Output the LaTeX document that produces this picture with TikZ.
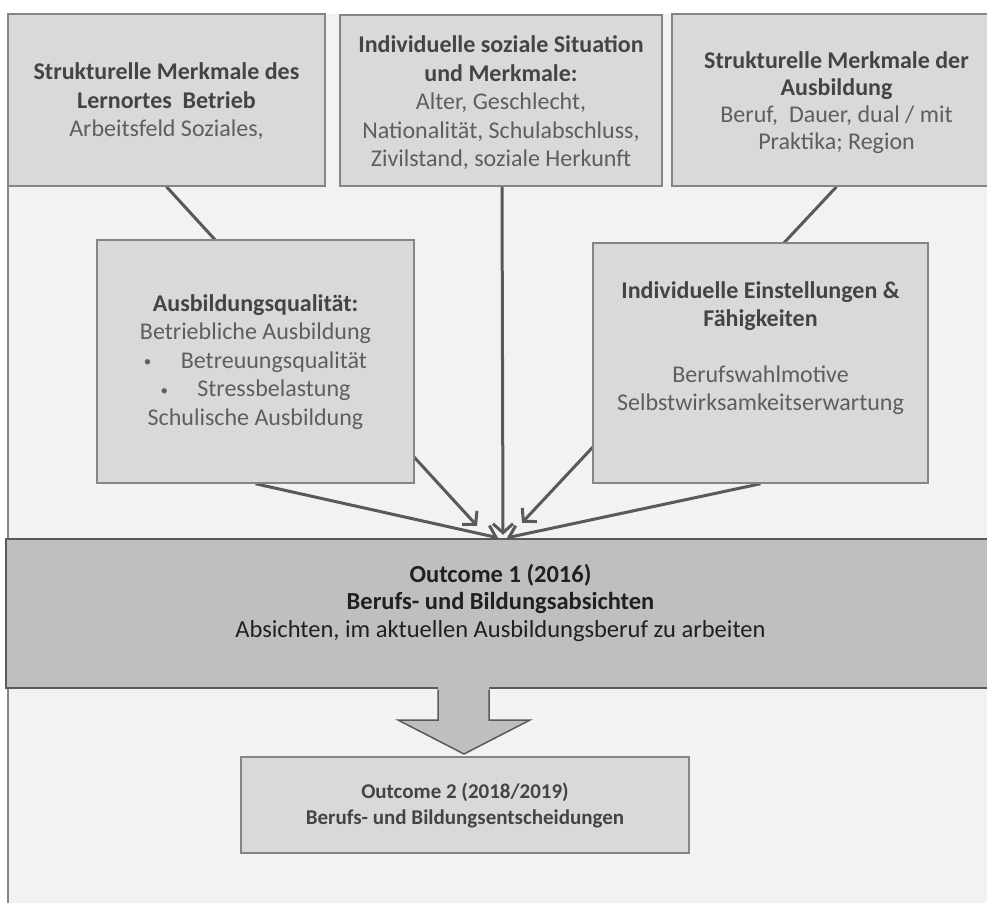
\documentclass[tikz,border=0pt]{standalone}
\usepackage{fontspec}
\setmainfont{Carlito}
\usetikzlibrary{arrows.meta,calc}
\definecolor{panelbg}{HTML}{F2F2F2}
\definecolor{boxfill}{HTML}{D9D9D9}
\definecolor{boxline}{HTML}{858585}
\definecolor{darkfill}{HTML}{BFBFBF}
\definecolor{lineclr}{HTML}{595959}
\definecolor{headclr}{HTML}{444444}
\definecolor{bodyclr}{HTML}{5E5E5E}
\definecolor{outclr}{HTML}{202020}
\newcommand\Hdg[1]{{\bfseries\color{headclr}#1}}
\newcommand\Bul{{\fontsize{15}{15}\selectfont\raisebox{1.5pt}{•}}}
\pgfdeclarelayer{panel}
\pgfdeclarelayer{links}
\pgfsetlayers{panel,links,main}
\begin{document}
\begin{tikzpicture}[x=1pt,y=-1pt,
  box/.style={draw=boxline, fill=boxfill, line width=1.5pt, inner sep=0pt, anchor=center},
  txt/.style={align=center, text=bodyclr, font=\fontsize{24}{28.5}\selectfont, inner sep=0pt, anchor=center},
  conn/.style={draw=lineclr, line width=3pt, -{Straight Barb[length=9pt,width=20pt]}}]
\useasboundingbox (0,0) rectangle (987,902);
% boxes
\node[box, minimum width=317pt, minimum height=172pt] (b1) at (166.5,100) {};
\node[box, minimum width=322pt, minimum height=171pt] (b2) at (501,100.5) {};
\node[box, minimum width=329pt, minimum height=172pt] (b3) at (836.5,100) {};
\node[box, minimum width=317pt, minimum height=243pt] (b4) at (255.5,361.5) {};
\node[box, minimum width=335pt, minimum height=240pt] (b5) at (760.5,363) {};
\node[draw=lineclr, fill=darkfill, line width=2.5pt, inner sep=0pt, minimum width=989pt, minimum height=149pt] (o1) at (500.5,613.5) {};
\node[box, minimum width=448pt, minimum height=96pt] (o2) at (465,805) {};
% texts
\node[txt] (t1) at (166.5,101.5) {\Hdg{Strukturelle Merkmale des}\\\Hdg{Lernortes~ Betrieb}\\Arbeitsfeld Soziales,};
\node[txt] (t2) at (501,103) {\Hdg{Individuelle soziale Situation}\\\Hdg{und Merkmale:}\\Alter, Geschlecht,\\Nationalität, Schulabschluss,\\Zivilstand, soziale Herkunft};
\node[txt, font=\fontsize{24}{27}\selectfont] (t3) at (836.5,102.5) {\Hdg{Strukturelle Merkmale der}\\\Hdg{Ausbildung}\\Beruf,~ Dauer, dual / mit\\Praktika; Region};
\node[txt] (t4) at (255.5,362) {\Hdg{Ausbildungsqualität:}\\Betriebliche Ausbildung\\\Bul\quad\ Betreuungsqualität\\\Bul\quad\ Stressbelastung\\Schulische Ausbildung};
\node[txt, font=\fontsize{24}{28}\selectfont] (t5) at (760.5,348.5) {\Hdg{Individuelle Einstellungen \&}\\\Hdg{Fähigkeiten}\\[28pt]Berufswahlmotive\\Selbstwirksamkeitserwartung};
\node[txt, text=outclr, font=\fontsize{24.5}{27.5}\selectfont] (t6) at (500.5,603) {\textbf{Outcome 1 (2016)}\\\textbf{Berufs- und Bildungsabsichten}\\Absichten, im aktuellen Ausbildungsberuf zu arbeiten};
\node[txt, font=\fontsize{21}{26}\selectfont] (t7) at (465,805) {\Hdg{Outcome 2 (2018/2019)}\\\Hdg{Berufs- und Bildungsentscheidungen}};
% panel
\begin{pgfonlayer}{panel}
\fill[panelbg] (8,14) rectangle (995,910);
\draw[boxline, line width=1.5pt] (8,14) -- (8,910);
\end{pgfonlayer}
% connectors
\begin{pgfonlayer}{links}
\draw[conn] (b1.south) -- ([xshift=-23.5pt,yshift=12pt]o1.north);
\draw[conn] ([xshift=1pt]b2.south) -- ([xshift=2.5pt,yshift=3pt]o1.north);
\draw[conn] (b3.south) -- ([xshift=21.5pt,yshift=15pt]o1.north);
\draw[conn] (b4.south) -- ([xshift=-2.5pt,yshift=0pt]o1.north);
\draw[conn] (b5.south) -- ([xshift=6.5pt,yshift=0pt]o1.north);
\end{pgfonlayer}
% big block arrow from o1 to o2
\fill[darkfill] (438,686) -- (438,720) -- (398,720) -- (464,754) -- (530,720) -- (489,720) -- (489,686) -- cycle;
\draw[lineclr, line width=1.5pt, line join=miter] (438,689.5) -- (438,720) -- (398,720) -- (464,754) -- (530,720) -- (489,720) -- (489,689.5);
\end{tikzpicture}
\end{document}
